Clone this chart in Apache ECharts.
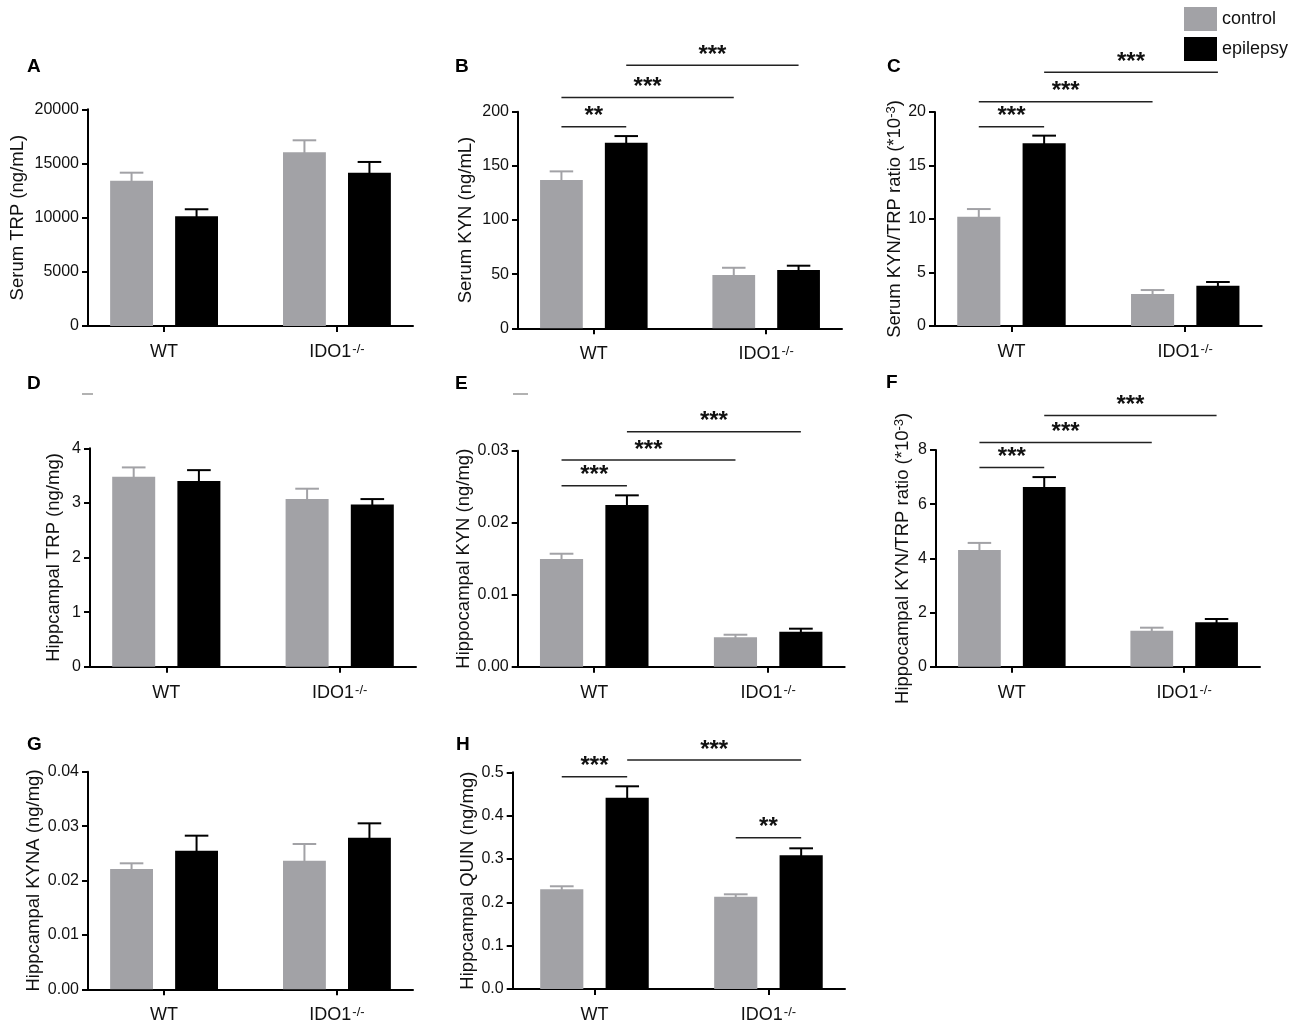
<!DOCTYPE html>
<html>
<head>
<meta charset="utf-8">
<script src="https://cdn.jsdelivr.net/npm/echarts@6.0.0/dist/echarts.min.js"></script>
<style>
html, body { margin: 0; padding: 0; background: #fff; }
#main { width: 1300px; height: 1031px; }
</style>
</head>
<body>
<div id="main"></div>
<script>
var FONT = '"Liberation Sans", Arial, Helvetica, sans-serif';
var GRAY = '#a2a2a6';
var BLACK = '#000000';

// groups on the x axis (0 = WT, 1 = IDO1-/-)
var groups = ['WT', 'IDO1'];
var groupSup = ['', '-/-'];
var seriesNames = ['control', 'epilepsy'];

// A  serum TRP
var serumTrpCtrl = [13410, 16030];
var serumTrpCtrlSem = [740, 1110];
var serumTrpEpi = [10125, 14150];
var serumTrpEpiSem = [650, 990];
var serumTrpTicks = [0, 20000, 5000];

// B  serum KYN
var serumKynCtrl = [136.9, 49.2];
var serumKynCtrlSem = [8.0, 6.7];
var serumKynEpi = [171.3, 53.8];
var serumKynEpiSem = [6.2, 4.0];
var serumKynTicks = [0, 200, 50];
var serumKynSig = [[0, 0, 0, 1, 186, '**'], [0, 0, 1, 0, 213.2, '***'], [0, 1, 1, 1, 243, '***']];

// C  serum KYN/TRP ratio
var serumRatioCtrl = [10.21, 2.99];
var serumRatioCtrlSem = [0.72, 0.37];
var serumRatioEpi = [17.07, 3.77];
var serumRatioEpiSem = [0.72, 0.34];
var serumRatioTicks = [0, 20, 5];
var serumRatioSig = [[0, 0, 0, 1, 18.63, '***'], [0, 0, 1, 0, 20.96, '***'], [0, 1, 1, 1, 23.71, '***']];

// D  hippocampal TRP
var hipTrpCtrl = [3.48, 3.07];
var hipTrpCtrlSem = [0.17, 0.19];
var hipTrpEpi = [3.40, 2.97];
var hipTrpEpiSem = [0.20, 0.10];
var hipTrpTicks = [0, 4, 1];

// E  hippocampal KYN
var hipKynCtrl = [0.01496, 0.00408];
var hipKynCtrlSem = [0.00073, 0.00036];
var hipKynEpi = [0.02246, 0.00486];
var hipKynEpiSem = [0.00134, 0.00042];
var hipKynTicks = [0, 0.03, 0.01];
var hipKynSig = [[0, 0, 0, 1, 0.02514, '***'], [0, 0, 1, 0, 0.02871, '***'], [0, 1, 1, 1, 0.03264, '***']];

// F  hippocampal KYN/TRP ratio
var hipRatioCtrl = [4.31, 1.33];
var hipRatioCtrlSem = [0.26, 0.11];
var hipRatioEpi = [6.63, 1.64];
var hipRatioEpiSem = [0.37, 0.12];
var hipRatioTicks = [0, 8, 2];
var hipRatioSig = [[0, 0, 0, 1, 7.35, '***'], [0, 0, 1, 0, 8.28, '***'], [0, 1, 1, 1, 9.27, '***']];

// G  hippocampal KYNA
var hipKynaCtrl = [0.02211, 0.02364];
var hipKynaCtrlSem = [0.00105, 0.00307];
var hipKynaEpi = [0.02548, 0.02787];
var hipKynaEpiSem = [0.00276, 0.00264];
var hipKynaTicks = [0, 0.04, 0.01];

// H  hippocampal QUIN
var hipQuinCtrl = [0.230, 0.213];
var hipQuinCtrlSem = [0.007, 0.0055];
var hipQuinEpi = [0.4414, 0.3085];
var hipQuinEpiSem = [0.0263, 0.0161];
var hipQuinTicks = [0, 0.5, 0.1];
var hipQuinSig = [[0, 0, 0, 1, 0.4899, '***'], [0, 1, 1, 1, 0.5284, '***'], [1, 0, 1, 1, 0.349, '**']];

var panels = [
    {letter: 'A', title: 'Serum TRP (ng/mL)', ticks: serumTrpTicks, digits: 0,
     ctrl: serumTrpCtrl, ctrlSem: serumTrpCtrlSem, epi: serumTrpEpi, epiSem: serumTrpEpiSem, sig: []},
    {letter: 'B', title: 'Serum KYN (ng/mL)', ticks: serumKynTicks, digits: 0,
     ctrl: serumKynCtrl, ctrlSem: serumKynCtrlSem, epi: serumKynEpi, epiSem: serumKynEpiSem, sig: serumKynSig},
    {letter: 'C', title: 'Serum KYN/TRP ratio (*10{s|-3})', ticks: serumRatioTicks, digits: 0,
     ctrl: serumRatioCtrl, ctrlSem: serumRatioCtrlSem, epi: serumRatioEpi, epiSem: serumRatioEpiSem, sig: serumRatioSig},
    {letter: 'D', title: 'Hippcampal TRP (ng/mg)', ticks: hipTrpTicks, digits: 0,
     ctrl: hipTrpCtrl, ctrlSem: hipTrpCtrlSem, epi: hipTrpEpi, epiSem: hipTrpEpiSem, sig: []},
    {letter: 'E', title: 'Hippocampal KYN (ng/mg)', ticks: hipKynTicks, digits: 2,
     ctrl: hipKynCtrl, ctrlSem: hipKynCtrlSem, epi: hipKynEpi, epiSem: hipKynEpiSem, sig: hipKynSig},
    {letter: 'F', title: 'Hippocampal KYN/TRP ratio (*10{s|-3})', ticks: hipRatioTicks, digits: 0,
     ctrl: hipRatioCtrl, ctrlSem: hipRatioCtrlSem, epi: hipRatioEpi, epiSem: hipRatioEpiSem, sig: hipRatioSig},
    {letter: 'G', title: 'Hippcampal KYNA (ng/mg)', ticks: hipKynaTicks, digits: 2,
     ctrl: hipKynaCtrl, ctrlSem: hipKynaCtrlSem, epi: hipKynaEpi, epiSem: hipKynaEpiSem, sig: []},
    {letter: 'H', title: 'Hippcampal QUIN (ng/mg)', ticks: hipQuinTicks, digits: 1,
     ctrl: hipQuinCtrl, ctrlSem: hipQuinCtrlSem, epi: hipQuinEpi, epiSem: hipQuinEpiSem, sig: hipQuinSig}
];

// grid placement: left, top, width, height, x min, name gap, letter x, letter y
var layouts = [
    [88, 109.3, 325, 216.7, -0.44, 61, 27, 67],
    [518, 111.7, 324, 216.6, -0.44, 43, 455, 67],
    [935, 112, 326.7, 214, -0.44, 30, 887, 67],
    [90, 448.3, 326, 218.4, -0.44, 27, 27, 384],
    [517.7, 450.7, 327, 216, -0.44, 43, 455, 384],
    [936, 450, 324, 216.7, -0.44, 24, 886, 383],
    [88, 771.7, 325, 217.6, -0.44, 45, 27, 745],
    [512.7, 772.3, 332.3, 216.7, -0.47, 34, 456, 745]
];
var X_MAX = 1.44;
var OFFSET = 0.188;   // bar centre distance from the group tick
var BAR_W = 0.248;

function barData(means, sems) {
    return means.map(function (m, i) { return [i, m, sems[i]]; });
}

function barRender(offset, color) {
    return function (params, api) {
        var x = api.value(0) + offset;
        var base = api.coord([x, 0]);
        var top = api.coord([x, api.value(1)]);
        var err = api.coord([x, api.value(1) + api.value(2)]);
        var w = api.size([BAR_W, 0])[0];
        var cap = w * 0.55;
        return {
            type: 'group',
            children: [
                {type: 'rect', shape: {x: base[0] - w / 2, y: top[1], width: w, height: base[1] - top[1]},
                 style: {fill: color}},
                {type: 'line', shape: {x1: top[0], y1: top[1] + 1, x2: top[0], y2: err[1]},
                 style: {stroke: color, lineWidth: 2}},
                {type: 'line', shape: {x1: top[0] - cap / 2, y1: err[1], x2: top[0] + cap / 2, y2: err[1]},
                 style: {stroke: color, lineWidth: 2}}
            ]
        };
    };
}

function pos(g, s) {
    return g + (s ? OFFSET : -OFFSET);
}

function sigRender(list) {
    return function (params, api) {
        var b = list[params.dataIndex];
        var p1 = api.coord([api.value(0), api.value(2)]);
        var p2 = api.coord([api.value(1), api.value(2)]);
        return {
            type: 'group',
            children: [
                {type: 'line', shape: {x1: p1[0], y1: p1[1], x2: p2[0], y2: p2[1]},
                 style: {stroke: '#222', lineWidth: 1.5}},
                {type: 'text', x: (p1[0] + p2[0]) / 2, y: p1[1] - 10,
                 style: {text: b[5], fill: '#111', fontSize: 24, fontWeight: 'bold', fontFamily: FONT,
                         align: 'center', verticalAlign: 'middle'}}
            ]
        };
    };
}

var option = {
    animation: false,
    backgroundColor: '#fff',
    textStyle: {fontFamily: FONT},
    legend: {
        orient: 'vertical', left: 1184, top: 7, padding: 0,
        itemWidth: 33, itemHeight: 24, itemGap: 6,
        selectedMode: false,
        textStyle: {fontSize: 18, color: '#111', fontFamily: FONT},
        data: [
            {name: seriesNames[0], icon: 'rect', itemStyle: {color: GRAY}},
            {name: seriesNames[1], icon: 'rect', itemStyle: {color: BLACK}}
        ]
    },
    grid: [], xAxis: [], yAxis: [], series: [], graphic: []
};

panels.forEach(function (p, i) {
    var L = layouts[i];
    option.grid.push({left: L[0], top: L[1], width: L[2], height: L[3], containLabel: false, outerBoundsMode: 'none'});
    option.xAxis.push({
        gridIndex: i, type: 'value', min: L[4], max: X_MAX,
        splitLine: {show: false},
        axisLine: {onZero: false, lineStyle: {color: '#000', width: 2}},
        axisTick: {customValues: [0, 1], length: 6, lineStyle: {color: '#000', width: 2}},
        axisLabel: {
            customValues: [0, 1], margin: 17, color: '#111',
            formatter: function (v) {
                var g = Math.round(v);
                return '{n|' + groups[g] + '}' + (groupSup[g] ? '{s|' + groupSup[g] + '}' : '');
            },
            rich: {
                n: {fontSize: 18, fontFamily: FONT, color: '#111'},
                s: {fontSize: 13, fontFamily: FONT, color: '#111', verticalAlign: 'top', padding: [0, 0, 0, 1]}
            }
        }
    });
    option.yAxis.push({
        gridIndex: i, type: 'value', min: p.ticks[0], max: p.ticks[1], interval: p.ticks[2],
        name: p.title, nameLocation: 'middle', nameGap: L[5], nameRotate: 90,
        nameTextStyle: {fontSize: 18.5, color: '#111', fontFamily: FONT,
                        rich: {s: {fontSize: 13, fontFamily: FONT, color: '#111', verticalAlign: 'top'}}},
        splitLine: {show: false},
        axisLine: {show: true, onZero: false, lineStyle: {color: '#000', width: 2}},
        axisTick: {show: true, length: 6, lineStyle: {color: '#000', width: 2}},
        axisLabel: {
            fontSize: 16, color: '#111', margin: 9,
            formatter: function (v) { return v.toFixed(p.digits); }
        }
    });
    option.series.push({
        type: 'custom', name: seriesNames[0], xAxisIndex: i, yAxisIndex: i,
        itemStyle: {color: GRAY}, encode: {x: 0, y: 1},
        renderItem: barRender(-OFFSET, GRAY), data: barData(p.ctrl, p.ctrlSem)
    });
    option.series.push({
        type: 'custom', name: seriesNames[1], xAxisIndex: i, yAxisIndex: i,
        itemStyle: {color: BLACK}, encode: {x: 0, y: 1},
        renderItem: barRender(OFFSET, BLACK), data: barData(p.epi, p.epiSem)
    });
    if (p.sig.length) {
        option.series.push({
            type: 'custom', xAxisIndex: i, yAxisIndex: i, clip: false, silent: true,
            encode: {x: [0, 1], y: 2},
            renderItem: sigRender(p.sig),
            data: p.sig.map(function (b) { return [pos(b[0], b[1]), pos(b[2], b[3]), b[4]]; })
        });
    }
    option.graphic.push({
        type: 'text', x: L[6], y: L[7],
        style: {text: p.letter, fill: '#000', fontSize: 19, fontWeight: 'bold', fontFamily: FONT, verticalAlign: 'middle'}
    });
});

// stray short grey marks next to panel letters D and E
option.graphic.push({type: 'line', shape: {x1: 82, y1: 394, x2: 93, y2: 394}, style: {stroke: '#999', lineWidth: 1.5}});
option.graphic.push({type: 'line', shape: {x1: 513, y1: 394, x2: 528, y2: 394}, style: {stroke: '#999', lineWidth: 1.5}});

var myChart = echarts.init(document.getElementById('main'));
myChart.setOption(option);
</script>
</body>
</html>
